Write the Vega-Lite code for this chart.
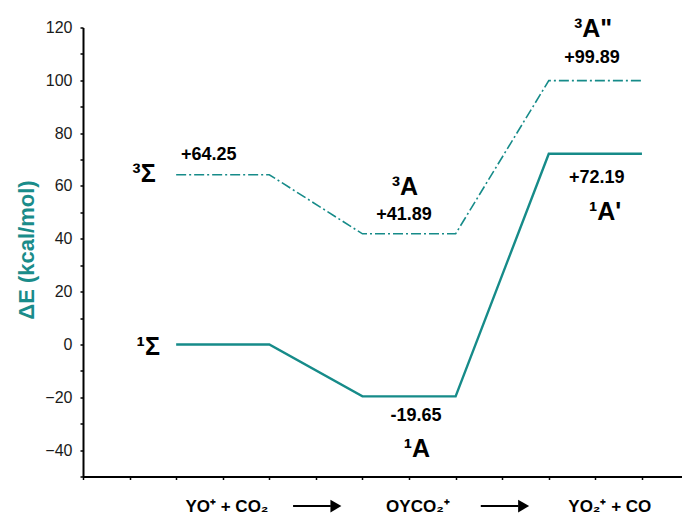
{
  "$schema": "https://vega.github.io/schema/vega-lite/v6.json",
  "width": 599,
  "height": 449,
  "autosize": "none",
  "padding": {"left": 83, "top": 27.5, "right": 0, "bottom": 47.5},
  "background": "white",
  "config": {"view": {"stroke": null}, "font": "Liberation Sans"},
  "resolve": {"axis": {"y": "independent"}, "scale": {"y": "shared", "x": "shared"}},
  "datasets": {
    "singlet": [
      {"x": 2, "y": 0}, {"x": 4, "y": 0}, {"x": 6, "y": -19.65},
      {"x": 8, "y": -19.65}, {"x": 10, "y": 72.19}, {"x": 12, "y": 72.19}
    ],
    "triplet": [
      {"x": 2, "y": 64.25}, {"x": 4, "y": 64.25}, {"x": 6, "y": 41.89},
      {"x": 8, "y": 41.89}, {"x": 10, "y": 99.89}, {"x": 12, "y": 99.89}
    ],
    "states": [
      {"x": 1.31, "y": 61.5, "label": "³Σ"},
      {"x": 1.40, "y": -4, "label": "¹Σ"},
      {"x": 6.91, "y": 56.6, "label": "³A"},
      {"x": 7.17, "y": -42.6, "label": "¹A"},
      {"x": 10.95, "y": 116.4, "label": "³A\""},
      {"x": 11.21, "y": 47.1, "label": "¹A'"}
    ],
    "energies": [
      {"x": 2.70, "y": 69.8, "label": "+64.25"},
      {"x": 6.89, "y": 47.1, "label": "+41.89"},
      {"x": 7.15, "y": -29, "label": "-19.65"},
      {"x": 10.93, "y": 106.6, "label": "+99.89"},
      {"x": 11.03, "y": 61.1, "label": "+72.19"}
    ],
    "species": [
      {"x": 3.09, "y": -63.5, "label": "YO⁺ + CO₂"},
      {"x": 7.19, "y": -63.5, "label": "OYCO₂⁺"},
      {"x": 11.31, "y": -63.5, "label": "YO₂⁺ + CO"}
    ],
    "arrows": [
      {"x": 4.51, "x2": 5.32, "xh": 5.43, "y": -61.2},
      {"x": 8.54, "x2": 9.35, "xh": 9.46, "y": -61.2}
    ]
  },
  "layer": [
    {
      "data": {"name": "triplet"},
      "mark": {"type": "line", "color": "#168b89", "strokeWidth": 1.6, "strokeDash": [10, 3, 2, 3]},
      "encoding": {
        "x": {
          "field": "x", "type": "quantitative",
          "scale": {"domain": [0, 12.86], "nice": false, "zero": false},
          "axis": {
            "title": null, "labels": false, "grid": false,
            "values": [0, 1, 2, 3, 4, 5, 6, 7, 8, 9, 10, 11, 12],
            "domainColor": "black", "domainWidth": 2,
            "tickColor": "black", "tickSize": 3, "tickWidth": 1.5
          }
        },
        "y": {
          "field": "y", "type": "quantitative",
          "scale": {"domain": [-50, 120], "nice": false, "zero": false},
          "axis": {
            "orient": "left",
            "title": "ΔE (kcal/mol)",
            "titleColor": "#1a8c8a", "titleFontSize": 22, "titleFontWeight": "bold",
            "titleFont": "Liberation Sans",
            "titleAngle": -90, "titleX": -57, "titleY": 222,
            "titleAlign": "center", "titleBaseline": "middle",
            "grid": false,
            "values": [-40, -20, 0, 20, 40, 60, 80, 100, 120],
            "labelOverlap": false, "labelBound": false, "labelFlush": false,
            "labelFontSize": 16, "labelColor": "#1a1a1a", "labelFont": "Liberation Sans",
            "labelPadding": 8,
            "domainColor": "black", "domainWidth": 2,
            "tickColor": "black", "tickSize": 3, "tickWidth": 1.5
          }
        }
      }
    },
    {
      "data": {"name": "singlet"},
      "mark": {"type": "line", "color": "#168b89", "strokeWidth": 2.4},
      "encoding": {
        "x": {"field": "x", "type": "quantitative"},
        "y": {
          "field": "y", "type": "quantitative",
          "axis": {
            "orient": "left", "title": null, "labels": false, "grid": false,
            "domain": false,
            "values": [-50, -30, -10, 10, 30, 50, 70, 90, 110],
            "tickColor": "black", "tickSize": 3, "tickWidth": 1.5
          }
        }
      }
    },
    {
      "data": {"name": "states"},
      "mark": {"type": "text", "fontSize": 25, "fontWeight": "bold", "baseline": "alphabetic", "align": "center", "color": "black"},
      "encoding": {
        "x": {"field": "x", "type": "quantitative"},
        "y": {"field": "y", "type": "quantitative", "axis": null},
        "text": {"field": "label"}
      }
    },
    {
      "data": {"name": "energies"},
      "mark": {"type": "text", "fontSize": 18, "fontWeight": "bold", "baseline": "alphabetic", "align": "center", "color": "black"},
      "encoding": {
        "x": {"field": "x", "type": "quantitative"},
        "y": {"field": "y", "type": "quantitative", "axis": null},
        "text": {"field": "label"}
      }
    },
    {
      "data": {"name": "species"},
      "mark": {"type": "text", "fontSize": 17, "fontWeight": "bold", "baseline": "alphabetic", "align": "center", "color": "black"},
      "encoding": {
        "x": {"field": "x", "type": "quantitative"},
        "y": {"field": "y", "type": "quantitative", "axis": null},
        "text": {"field": "label"}
      }
    },
    {
      "data": {"name": "arrows"},
      "mark": {"type": "rule", "color": "black", "strokeWidth": 2},
      "encoding": {
        "x": {"field": "x", "type": "quantitative"},
        "x2": {"field": "x2"},
        "y": {"field": "y", "type": "quantitative", "axis": null}
      }
    },
    {
      "data": {"name": "arrows"},
      "mark": {"type": "point", "shape": "triangle-right", "filled": true, "color": "black", "opacity": 1, "size": 160},
      "encoding": {
        "x": {"field": "xh", "type": "quantitative"},
        "y": {"field": "y", "type": "quantitative", "axis": null}
      }
    }
  ]
}
